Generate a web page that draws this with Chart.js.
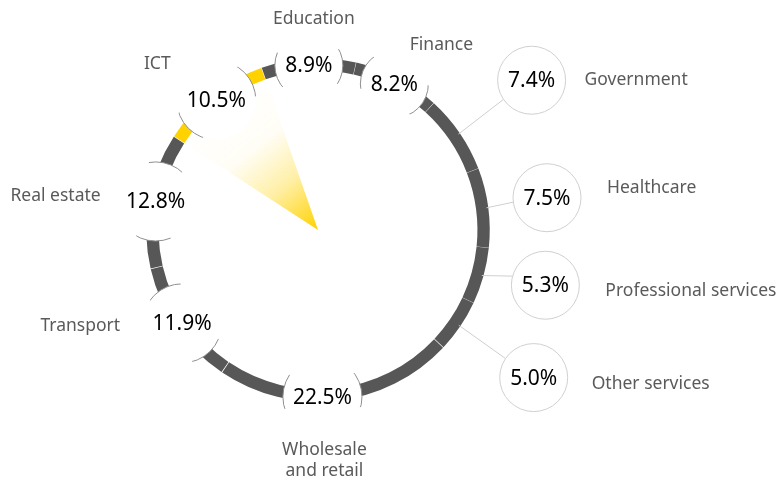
<!DOCTYPE html>
<html>
<head>
<meta charset="utf-8">
<script src="https://cdn.jsdelivr.net/npm/chart.js@4"></script>
<style>
  html, body { margin: 0; padding: 0; background: #fff; }
  #wrap { width: 784px; height: 487px; }
</style>
</head>
<body>
<div id="wrap">
  <canvas id="sectorChart" width="784" height="487" role="img" aria-label="Share of each sector"></canvas>
</div>
<script>
const sectors = ["ICT", "Education", "Finance", "Government", "Healthcare",
                 "Professional services", "Other services", "Wholesale\nand retail",
                 "Transport", "Real estate"];
const shares = [10.5, 8.9, 8.2, 7.4, 7.5, 5.3, 5.0, 22.5, 11.9, 12.8];
const highlighted = "ICT";

const GREY = "#575757";
const YELLOW = "#FFD200";
const LABEL_COLOR = "#5a5a5a";

// small values get a bubble outside the ring with a leader line
const outsideBelow = 8;

// name placement relative to each bubble; leader = distance of outside bubbles from centre
const spots = [
  { dx: -59, dy: -36, align: "center" },
  { dx: 5, dy: -46, align: "center" },
  { dx: 47, dy: -39, align: "center" },
  { leader: 255, shiftX: 3, shiftY: -6, dx: 53, dy: 0, align: "left" },
  { leader: 232, shiftX: -1, shiftY: -2, dx: 60, dy: -10, align: "left" },
  { leader: 236, shiftY: -8, dx: 60, dy: 6, align: "left" },
  { leader: 258, shiftX: 2, shiftY: 3, dx: 58, dy: 6, align: "left" },
  { shiftX: -14, shiftY: 3, dx: 2, dy: 53, align: "center" },
  { dx: -62, dy: 3, align: "right" },
  { dx: -55, dy: -5, align: "right" },
];

const bubblePlugin = {
  id: "bubbles",
  afterDatasetsDraw(chart) {
    const ctx = chart.ctx;
    const arcs = chart.getDatasetMeta(0).data;
    const cx = arcs[0].x, cy = arcs[0].y;
    const outer = arcs[0].outerRadius, inner = arcs[0].innerRadius;
    const mid = (outer + inner) / 2;

    ctx.save();
    ctx.font = "21px 'Noto Sans'";
    const bubbles = arcs.map((arc, i) => {
      const a = (arc.startAngle + arc.endAngle) / 2;
      const s = spots[i];
      const text = shares[i].toFixed(1) + "%";
      const outside = shares[i] < outsideBelow;
      const dist = outside ? s.leader : mid;
      const w = ctx.measureText(text).width;
      return {
        a, text, outside,
        x: cx + Math.cos(a) * dist + (s.shiftX || 0),
        y: cy + Math.sin(a) * dist + (s.shiftY || 0),
        r: outside ? 34 : Math.max(34, w / 2 + 10),
      };
    });

    // yellow wedge pointing at the highlighted sector
    const hi = sectors.indexOf(highlighted);
    const h = arcs[hi];
    const p1 = [cx + Math.cos(h.startAngle) * inner, cy + Math.sin(h.startAngle) * inner];
    const p2 = [cx + Math.cos(h.endAngle) * inner, cy + Math.sin(h.endAngle) * inner];
    const midA = (h.startAngle + h.endAngle) / 2;
    const g = ctx.createLinearGradient(cx + Math.cos(midA) * inner, cy + Math.sin(midA) * inner, cx, cy);
    g.addColorStop(0, "rgba(255,210,0,0)");
    g.addColorStop(0.35, "rgba(255,210,0,0.04)");
    g.addColorStop(0.65, "rgba(255,210,0,0.35)");
    g.addColorStop(1, "rgba(255,210,0,1)");
    ctx.beginPath();
    ctx.moveTo(cx, cy);
    ctx.lineTo(p1[0], p1[1]);
    ctx.lineTo(p2[0], p2[1]);
    ctx.closePath();
    ctx.fillStyle = g;
    ctx.fill();

    // leader lines
    ctx.strokeStyle = "#cfcfcf";
    ctx.lineWidth = 1;
    bubbles.forEach((b) => {
      if (!b.outside) return;
      ctx.beginPath();
      ctx.moveTo(cx + Math.cos(b.a) * (outer - 1), cy + Math.sin(b.a) * (outer - 1));
      ctx.lineTo(b.x - Math.cos(b.a) * b.r, b.y - Math.sin(b.a) * b.r);
      ctx.stroke();
    });

    // white discs
    ctx.fillStyle = "#fff";
    bubbles.forEach((b) => {
      ctx.beginPath();
      ctx.arc(b.x, b.y, b.r, 0, Math.PI * 2);
      ctx.fill();
    });

    // outside bubbles get a full outline
    ctx.strokeStyle = "#d0d0d0";
    bubbles.forEach((b) => {
      if (!b.outside) return;
      ctx.beginPath();
      ctx.arc(b.x, b.y, b.r, 0, Math.PI * 2);
      ctx.stroke();
    });

    // ring bubbles only show their outline where they cross the ring
    ctx.save();
    ctx.beginPath();
    ctx.arc(cx, cy, outer + 11, 0, Math.PI * 2);
    ctx.arc(cx, cy, Math.max(inner - 11, 0), 0, Math.PI * 2, true);
    ctx.clip();
    ctx.strokeStyle = "#8f8f8f";
    bubbles.forEach((b) => {
      if (b.outside) return;
      ctx.beginPath();
      ctx.arc(b.x, b.y, b.r, 0, Math.PI * 2);
      ctx.stroke();
    });
    ctx.restore();

    // values
    ctx.fillStyle = "#000";
    ctx.textAlign = "center";
    ctx.textBaseline = "middle";
    ctx.font = "21px 'Noto Sans'";
    bubbles.forEach((b) => ctx.fillText(b.text, b.x, b.y + 1));

    // sector names
    ctx.fillStyle = LABEL_COLOR;
    ctx.font = "17.5px 'Noto Sans'";
    bubbles.forEach((b, i) => {
      const s = spots[i];
      ctx.textAlign = s.align;
      sectors[i].split("\n").forEach((line, k) => {
        ctx.fillText(line, b.x + s.dx, b.y + s.dy + k * 21);
      });
    });
    ctx.restore();
  },
};

new Chart(document.getElementById("sectorChart").getContext("2d"), {
  type: "doughnut",
  data: {
    labels: sectors,
    datasets: [{
      data: shares,
      backgroundColor: sectors.map((s) => (s === highlighted ? YELLOW : GREY)),
      borderWidth: 0,
      spacing: 1.5,
      hoverOffset: 0,
    }],
  },
  options: {
    responsive: false,
    animation: false,
    rotation: -57,
    radius: 171,
    cutout: 158,
    layout: { padding: { left: 147, right: 295, top: 59, bottom: 86 } },
    plugins: { legend: { display: false }, tooltip: { enabled: false } },
    events: [],
  },
  plugins: [bubblePlugin],
});
</script>
</body>
</html>
